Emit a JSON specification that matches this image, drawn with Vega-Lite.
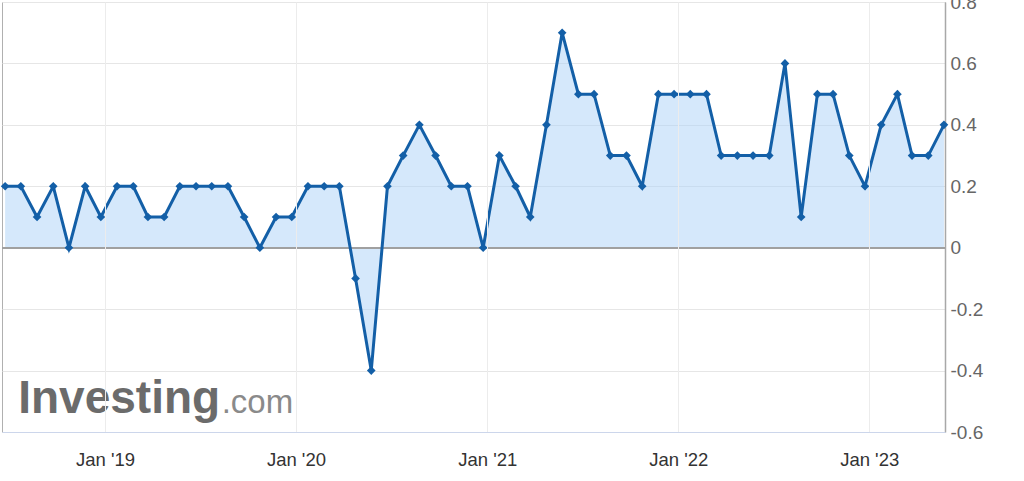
{
  "$schema": "https://vega.github.io/schema/vega-lite/v6.json",
  "width": 943,
  "height": 430,
  "autosize": {"type": "none"},
  "padding": {"left": 2, "top": 2, "right": 79, "bottom": 49},
  "background": "white",
  "config": {
    "font": "Liberation Sans",
    "view": {"stroke": "#b0b0b0", "strokeWidth": 1}
  },
  "layer": [
    {
      "data": {"name": "series", "values": [
      {"date": "2018-06-24", "value": 0.2},
      {"date": "2018-07-24", "value": 0.2},
      {"date": "2018-08-24", "value": 0.1},
      {"date": "2018-09-24", "value": 0.2},
      {"date": "2018-10-24", "value": 0.0},
      {"date": "2018-11-24", "value": 0.2},
      {"date": "2018-12-24", "value": 0.1},
      {"date": "2019-01-24", "value": 0.2},
      {"date": "2019-02-24", "value": 0.2},
      {"date": "2019-03-24", "value": 0.1},
      {"date": "2019-04-24", "value": 0.1},
      {"date": "2019-05-24", "value": 0.2},
      {"date": "2019-06-24", "value": 0.2},
      {"date": "2019-07-24", "value": 0.2},
      {"date": "2019-08-24", "value": 0.2},
      {"date": "2019-09-24", "value": 0.1},
      {"date": "2019-10-24", "value": 0.0},
      {"date": "2019-11-24", "value": 0.1},
      {"date": "2019-12-24", "value": 0.1},
      {"date": "2020-01-24", "value": 0.2},
      {"date": "2020-02-24", "value": 0.2},
      {"date": "2020-03-24", "value": 0.2},
      {"date": "2020-04-24", "value": -0.1},
      {"date": "2020-05-24", "value": -0.4},
      {"date": "2020-06-24", "value": 0.2},
      {"date": "2020-07-24", "value": 0.3},
      {"date": "2020-08-24", "value": 0.4},
      {"date": "2020-09-24", "value": 0.3},
      {"date": "2020-10-24", "value": 0.2},
      {"date": "2020-11-24", "value": 0.2},
      {"date": "2020-12-24", "value": 0.0},
      {"date": "2021-01-24", "value": 0.3},
      {"date": "2021-02-24", "value": 0.2},
      {"date": "2021-03-24", "value": 0.1},
      {"date": "2021-04-24", "value": 0.4},
      {"date": "2021-05-24", "value": 0.7},
      {"date": "2021-06-24", "value": 0.5},
      {"date": "2021-07-24", "value": 0.5},
      {"date": "2021-08-24", "value": 0.3},
      {"date": "2021-09-24", "value": 0.3},
      {"date": "2021-10-24", "value": 0.2},
      {"date": "2021-11-24", "value": 0.5},
      {"date": "2021-12-24", "value": 0.5},
      {"date": "2022-01-24", "value": 0.5},
      {"date": "2022-02-24", "value": 0.5},
      {"date": "2022-03-24", "value": 0.3},
      {"date": "2022-04-24", "value": 0.3},
      {"date": "2022-05-24", "value": 0.3},
      {"date": "2022-06-24", "value": 0.3},
      {"date": "2022-07-24", "value": 0.6},
      {"date": "2022-08-24", "value": 0.1},
      {"date": "2022-09-24", "value": 0.5},
      {"date": "2022-10-24", "value": 0.5},
      {"date": "2022-11-24", "value": 0.3},
      {"date": "2022-12-24", "value": 0.2},
      {"date": "2023-01-24", "value": 0.4},
      {"date": "2023-02-24", "value": 0.5},
      {"date": "2023-03-24", "value": 0.3},
      {"date": "2023-04-24", "value": 0.3},
      {"date": "2023-05-24", "value": 0.4}
      ]},
      "encoding": {
        "x": {
          "field": "date",
          "type": "temporal",
          "title": null,
          "scale": {"domain": [{"year": 2018, "month": 6, "date": 18}, {"year": 2023, "month": 5, "date": 26}]},
          "axis": {
            "format": "%b '%y",
            "tickCount": {"interval": "year", "step": 1},
            "grid": true,
            "gridColor": "#ececec",
            "gridWidth": 1,
            "ticks": false,
            "domainColor": "#ccd6eb",
            "domainWidth": 1,
            "labelFontSize": 18.5,
            "labelColor": "#333333",
            "labelPadding": 18,
            "labelFlush": false,
            "labelOverlap": false,
            "zindex": 1
          }
        },
        "y": {
          "field": "value",
          "type": "quantitative",
          "title": null,
          "scale": {"domain": [-0.6, 0.8], "nice": false, "zero": false},
          "axis": {
            "orient": "right",
            "values": [-0.6, -0.4, -0.2, 0, 0.2, 0.4, 0.6, 0.8],
            "labelExpr": "replace(format(datum.value, '.1~f'), '\u2212', '-')",
            "grid": true,
            "gridColor": "#e6e6e6",
            "gridWidth": 1,
            "ticks": false,
            "domainColor": "#a8a8a8",
            "domainWidth": 1.5,
            "labelFontSize": 19,
            "labelColor": "#666666",
            "labelPadding": 5,
            "labelFlush": false,
            "labelOverlap": false,
            "labelBaseline": "middle"
          }
        }
      },
      "layer": [
        {
          "mark": {"type": "area", "color": "#acd2f8", "opacity": 0.5},
          "encoding": {"y2": {"datum": 0}}
        },
        {
          "mark": {"type": "rule", "color": "#a0a0a0", "strokeWidth": 1.5},
          "encoding": {"y": {"datum": 0}, "x": null}
        },
        {
          "mark": {
            "type": "line",
            "color": "#135fa7",
            "strokeWidth": 3,
            "point": {"shape": "diamond", "size": 75, "filled": true, "color": "#135fa7", "opacity": 1}
          },
          "encoding": {}
        }
      ]
    },
    {
      "data": {"values": [{"label": "Investing"}]},
      "mark": {"type": "text", "fontSize": 46, "fontWeight": "bold", "color": "#6b6b6b", "align": "left", "baseline": "alphabetic"},
      "encoding": {
        "text": {"field": "label"},
        "x": {"datum": {"year": 2018, "month": 7, "date": 19}, "type": "temporal"},
        "y": {"datum": -0.538}
      }
    },
    {
      "data": {"values": [{"label": ".com"}]},
      "mark": {"type": "text", "fontSize": 33, "fontWeight": "normal", "color": "#8a8a8a", "align": "left", "baseline": "alphabetic"},
      "encoding": {
        "text": {"field": "label"},
        "x": {"datum": {"year": 2019, "month": 8, "date": 12}, "type": "temporal"},
        "y": {"datum": -0.538}
      }
    }
  ]
}
